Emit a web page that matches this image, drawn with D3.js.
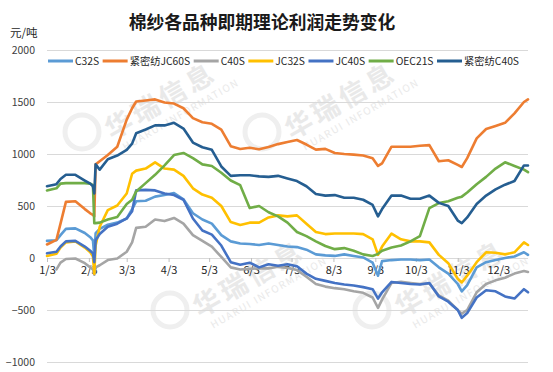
<!DOCTYPE html>
<html>
<head>
<meta charset="utf-8">
<script src="https://cdn.jsdelivr.net/npm/d3@7"></script>
<style>
  html, body { margin: 0; padding: 0; background: #fff; }
  svg { display: block; }
  text { font-family: "Noto Sans CJK SC", "Noto Sans", sans-serif; }
</style>
</head>
<body>
<svg id="chart" width="553" height="372"></svg>
<script>
// ---------------- DATA ----------------
const dates = [
  "2023-01-03","2023-01-10","2023-01-13","2023-01-17","2023-01-24","2023-01-31",
  "2023-02-04","2023-02-06","2023-02-07","2023-02-08","2023-02-11","2023-02-17","2023-02-24",
  "2023-03-03","2023-03-07","2023-03-10","2023-03-17","2023-03-24","2023-03-31",
  "2023-04-07","2023-04-14","2023-04-21","2023-04-28",
  "2023-05-05","2023-05-12","2023-05-19","2023-05-26",
  "2023-06-02","2023-06-09","2023-06-16","2023-06-23","2023-06-30",
  "2023-07-07","2023-07-14","2023-07-21","2023-07-28",
  "2023-08-04","2023-08-11","2023-08-18","2023-08-25",
  "2023-09-01","2023-09-05","2023-09-08","2023-09-15","2023-09-22","2023-09-29",
  "2023-10-06","2023-10-13","2023-10-20","2023-10-27",
  "2023-11-03","2023-11-06","2023-11-10","2023-11-17","2023-11-24",
  "2023-12-01","2023-12-08","2023-12-15","2023-12-22","2023-12-25"
];

const seriesNames = ["C32S","紧密纺JC60S","C40S","JC32S","JC40S","OEC21S","紧密纺C40S"];

const c32s = [165,170,220,280,285,240, 200,170,15,240,280,320,340,
  380,470,545,550,590,605, 625,565,430,370, 330,220,160,140,
  135,125,140,125,110, 105,80,35,25, 20,35,20,5,
  -45,-170,-30,-20,-15,-15, -20,-15,-90,-150,
  -250,-320,-260,-90,-40, -20,0,15,55,30];

const jc60s = [130,175,330,540,545,470, 430,415,400,900,930,990,1070,
  1330,1440,1505,1515,1525,1495, 1485,1440,1345,1305, 1290,1235,1075,1048,
  1060,1045,1068,1095,1115, 1135,1091,1042,1049, 1010,1000,994,985,
  960,885,910,1070,1070,1070, 1080,1085,930,940,
  895,875,960,1150,1240, 1270,1300,1390,1500,1525];

const c40s = [null,-110,-45,-10,-5,-50, -90,-110,-160,-90,-70,-20,-5,
  60,150,290,300,370,355, 385,330,220,165, 110,10,-90,-110,
  -105,-100,-100,-85,-95, -116,-180,-250,-275, -290,-300,-320,-335,
  -380,-480,-400,-240,-228,-240, -250,-245,-360,-410,
  -500,-535,-500,-330,-250, -215,-190,-150,-125,-135];

const jc32s = [20,40,100,150,160,100, 55,15,-150,120,300,460,505,
  620,810,840,860,920,860, 850,790,670,610, 580,500,345,318,
  340,340,390,410,400, 410,330,250,230, 235,235,235,230,
  180,30,110,235,180,160, 160,150,30,-50,
  -200,-235,-170,-40,55, 50,35,55,150,125];

const jc40s = [45,60,110,160,165,110, 70,45,-40,170,230,300,330,
  380,450,650,655,650,620, 605,560,380,265, 225,120,-40,-65,
  -45,-90,-60,-75,-60, -80,-150,-200,-220, -240,-255,-265,-280,
  -300,-390,-330,-230,-240,-250, -255,-240,-370,-420,
  -500,-575,-530,-380,-310, -320,-370,-390,-300,-330];

const oec21s = [650,670,715,720,720,720, 715,700,335,335,340,370,395,
  520,560,640,720,800,890, 990,1010,960,900, 885,820,745,700,
  480,500,440,400,340, 250,210,160,115, 85,95,70,35,
  20,40,70,100,120,160, 210,480,528,545,
  580,590,630,710,780, 860,920,885,850,825];

const jmc40s = [690,710,760,800,800,745, 715,690,620,900,850,950,985,
  1040,1100,1200,1235,1275,1275, 1300,1245,1110,1065, 1040,880,790,795,
  795,785,780,790,765, 740,690,615,600, 605,580,580,560,
  510,400,470,600,600,570, 570,600,530,500,
  360,335,390,520,600, 660,705,740,890,890];

const seriesValues = [c32s, jc60s, c40s, jc32s, jc40s, oec21s, jmc40s];
const seriesColors = ["#5B9BD5","#ED7D31","#A5A5A5","#FFC000","#4472C4","#70AD47","#255E91"];

const yTicks = [-1000,-500,0,500,1000,1500,2000];
const xTickDates = ["2023-01-03","2023-02-03","2023-03-03","2023-04-03","2023-05-03","2023-06-03",
  "2023-07-03","2023-08-03","2023-09-03","2023-10-03","2023-11-03","2023-12-03"];
const xTickLabels = ["1/3","2/3","3/3","4/3","5/3","6/3","7/3","8/3","9/3","10/3","11/3","12/3"];

const titleText = "棉纱各品种即期理论利润走势变化";
const unitText = "元/吨";

// ---------------- CHART ----------------
(function () {
const parse = d3.timeParse("%Y-%m-%d");
const dateObjs = dates.map(parse);
const svg = d3.select("#chart");

const pLeft = 47, pRight = 528, pTop = 50, pBottom = 362;
const x = d3.scaleTime().domain([parse("2023-01-03"), parse("2023-12-25")]).range([pLeft, pRight]);
const y = d3.scaleLinear().domain([-1000, 2000]).range([pBottom, pTop]);

// watermark (decorative, faint)
const wm = svg.append("g").attr("fill", "#e9e9e9");
[[112,140],[292,140],[200,318],[402,318]].forEach(([wx, wy]) => {
  wm.append("circle").attr("cx", wx - 30).attr("cy", wy - 8).attr("r", 17)
    .attr("fill", "none").attr("stroke", "#efefef").attr("stroke-width", 5);
  const g = wm.append("g").attr("transform", `translate(${wx},${wy}) rotate(-30)`);
  g.append("text").attr("x", 0).attr("y", 0).attr("font-size", 27).attr("font-weight", 700)
    .attr("letter-spacing", 4).text("华瑞信息");
  g.append("text").attr("x", 6).attr("y", 16).attr("font-size", 10).attr("letter-spacing", 1.5)
    .text("HUARUI INFORMATION");
});

// y grid + labels
const yAxis = d3.axisLeft(y).tickValues(yTicks).tickSize(-(pRight - pLeft)).tickPadding(12)
  .tickFormat(d3.format("d"));
const gy = svg.append("g").attr("transform", `translate(${pLeft},0)`).call(yAxis);
gy.select(".domain").remove();
gy.selectAll(".tick line").attr("stroke", "#d9d9d9").attr("stroke-width", 1);
gy.selectAll(".tick text").attr("font-size", 10.5).attr("fill", "#404040")
  .attr("font-family", "'Noto Sans CJK SC', sans-serif");

// x axis on zero line
const xAxis = d3.axisBottom(x).tickValues(xTickDates.map(parse)).tickSize(4).tickPadding(4)
  .tickFormat((d, i) => xTickLabels[i]);
const gx = svg.append("g").attr("transform", `translate(0,${y(0)})`).call(xAxis);
gx.select(".domain").remove();
gx.selectAll(".tick line").attr("stroke", "#bfbfbf");
gx.selectAll(".tick text").attr("font-size", 11).attr("fill", "#262626")
  .attr("font-family", "'Noto Sans CJK SC', sans-serif");

// lines
const line = d3.line()
  .defined(d => d.v !== null)
  .x(d => x(d.date))
  .y(d => y(d.v))
  .curve(d3.curveLinear);

seriesValues.forEach((vals, si) => {
  const pts = vals.map((v, i) => ({ date: dateObjs[i], v }));
  svg.append("path").datum(pts)
    .attr("fill", "none")
    .attr("stroke", seriesColors[si])
    .attr("stroke-width", 2.6)
    .attr("stroke-linejoin", "round")
    .attr("stroke-linecap", "round")
    .attr("d", line);
});

// title
svg.append("text").attr("x", 262).attr("y", 29).attr("text-anchor", "middle")
  .attr("font-size", 17.8).attr("font-weight", 700).attr("fill", "#1a1a1a")
  .text(titleText);

// unit
svg.append("text").attr("x", 10).attr("y", 37).attr("font-size", 11.5).attr("fill", "#262626")
  .text(unitText);

// legend
let lx = 48;
const ly = 61;
const lg = svg.append("g");
seriesNames.forEach((name, i) => {
  lg.append("line").attr("x1", lx).attr("x2", lx + 25).attr("y1", ly).attr("y2", ly)
    .attr("stroke", seriesColors[i]).attr("stroke-width", 3);
  const t = lg.append("text").attr("x", lx + 27).attr("y", ly + 4)
    .attr("font-size", 10.3).attr("fill", "#262626").text(name);
  lx += 27 + t.node().getComputedTextLength() + 3.5;
});
})();
</script>
</body>
</html>
